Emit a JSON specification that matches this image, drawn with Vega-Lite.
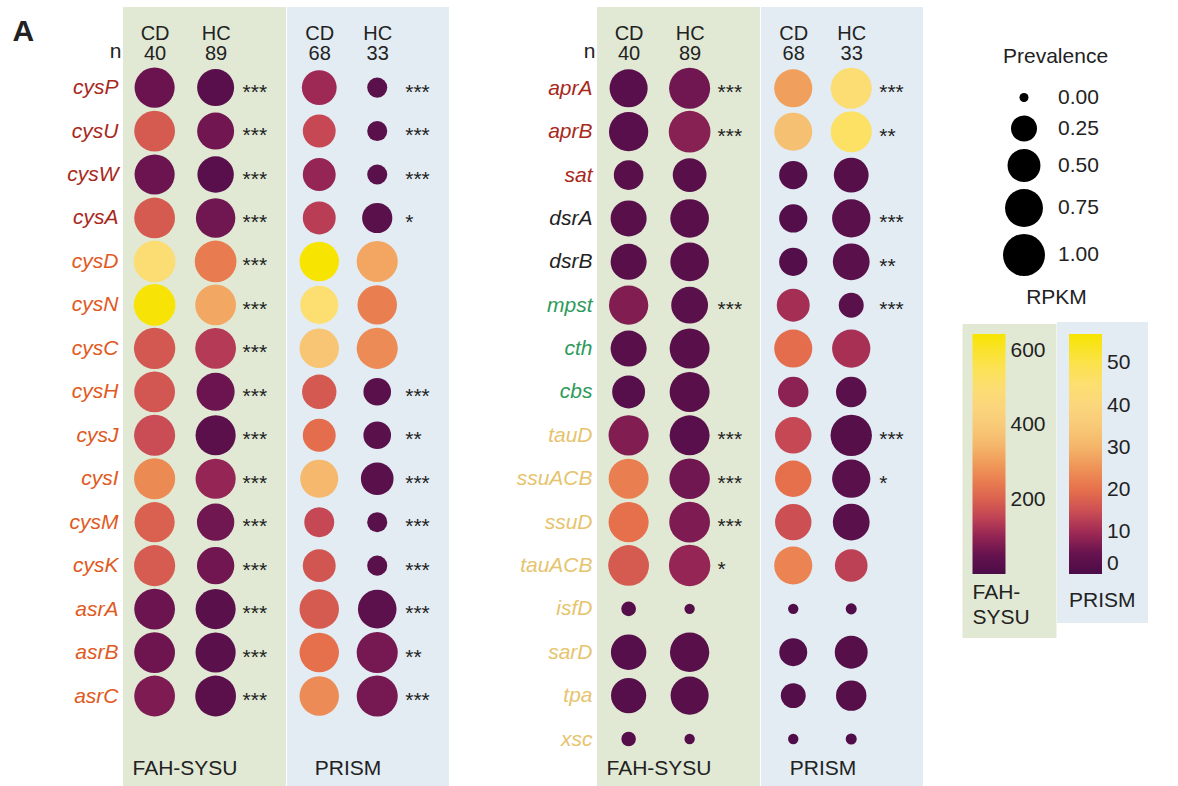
{
  "$schema": "https://vega.github.io/schema/vega-lite/v6.json",
  "padding": {"left": 12, "top": 7, "right": 0, "bottom": 0},
  "background": "white",
  "config": {"font": "Liberation Sans", "view": {"stroke": null}, "title": {"fontWeight": "normal"}, "legend": {"titleFontWeight": "normal"}},
  "datasets": {
    "dots": [
      {"gene":"cysP","panel":"L","cohort":"FAH-SYSU","group":"CD","prev":0.88,"rpkm":60},
      {"gene":"cysP","panel":"L","cohort":"FAH-SYSU","group":"HC","prev":0.70,"rpkm":28},
      {"gene":"cysP","panel":"L","cohort":"PRISM","group":"CD","prev":0.59,"rpkm":9.8},
      {"gene":"cysP","panel":"L","cohort":"PRISM","group":"HC","prev":0.11,"rpkm":2.5},
      {"gene":"cysU","panel":"L","cohort":"FAH-SYSU","group":"CD","prev":0.92,"rpkm":190},
      {"gene":"cysU","panel":"L","cohort":"FAH-SYSU","group":"HC","prev":0.70,"rpkm":70},
      {"gene":"cysU","panel":"L","cohort":"PRISM","group":"CD","prev":0.50,"rpkm":14},
      {"gene":"cysU","panel":"L","cohort":"PRISM","group":"HC","prev":0.11,"rpkm":2.5},
      {"gene":"cysW","panel":"L","cohort":"FAH-SYSU","group":"CD","prev":0.88,"rpkm":62},
      {"gene":"cysW","panel":"L","cohort":"FAH-SYSU","group":"HC","prev":0.67,"rpkm":28},
      {"gene":"cysW","panel":"L","cohort":"PRISM","group":"CD","prev":0.50,"rpkm":9},
      {"gene":"cysW","panel":"L","cohort":"PRISM","group":"HC","prev":0.11,"rpkm":2.5},
      {"gene":"cysA","panel":"L","cohort":"FAH-SYSU","group":"CD","prev":0.92,"rpkm":190},
      {"gene":"cysA","panel":"L","cohort":"FAH-SYSU","group":"HC","prev":0.84,"rpkm":68},
      {"gene":"cysA","panel":"L","cohort":"PRISM","group":"CD","prev":0.50,"rpkm":12.5},
      {"gene":"cysA","panel":"L","cohort":"PRISM","group":"HC","prev":0.39,"rpkm":2.5},
      {"gene":"cysD","panel":"L","cohort":"FAH-SYSU","group":"CD","prev":0.98,"rpkm":500},
      {"gene":"cysD","panel":"L","cohort":"FAH-SYSU","group":"HC","prev":0.98,"rpkm":245},
      {"gene":"cysD","panel":"L","cohort":"PRISM","group":"CD","prev":0.84,"rpkm":57},
      {"gene":"cysD","panel":"L","cohort":"PRISM","group":"HC","prev":0.94,"rpkm":28},
      {"gene":"cysN","panel":"L","cohort":"FAH-SYSU","group":"CD","prev":0.98,"rpkm":640},
      {"gene":"cysN","panel":"L","cohort":"FAH-SYSU","group":"HC","prev":0.92,"rpkm":320},
      {"gene":"cysN","panel":"L","cohort":"PRISM","group":"CD","prev":0.76,"rpkm":45},
      {"gene":"cysN","panel":"L","cohort":"PRISM","group":"HC","prev":0.84,"rpkm":22},
      {"gene":"cysC","panel":"L","cohort":"FAH-SYSU","group":"CD","prev":0.96,"rpkm":185},
      {"gene":"cysC","panel":"L","cohort":"FAH-SYSU","group":"HC","prev":0.92,"rpkm":138},
      {"gene":"cysC","panel":"L","cohort":"PRISM","group":"CD","prev":0.84,"rpkm":34},
      {"gene":"cysC","panel":"L","cohort":"PRISM","group":"HC","prev":0.94,"rpkm":24},
      {"gene":"cysH","panel":"L","cohort":"FAH-SYSU","group":"CD","prev":0.92,"rpkm":182},
      {"gene":"cysH","panel":"L","cohort":"FAH-SYSU","group":"HC","prev":0.76,"rpkm":62},
      {"gene":"cysH","panel":"L","cohort":"PRISM","group":"CD","prev":0.57,"rpkm":16.5},
      {"gene":"cysH","panel":"L","cohort":"PRISM","group":"HC","prev":0.30,"rpkm":2.5},
      {"gene":"cysJ","panel":"L","cohort":"FAH-SYSU","group":"CD","prev":0.94,"rpkm":165},
      {"gene":"cysJ","panel":"L","cohort":"FAH-SYSU","group":"HC","prev":0.88,"rpkm":32},
      {"gene":"cysJ","panel":"L","cohort":"PRISM","group":"CD","prev":0.50,"rpkm":19.5},
      {"gene":"cysJ","panel":"L","cohort":"PRISM","group":"HC","prev":0.30,"rpkm":2.5},
      {"gene":"cysI","panel":"L","cohort":"FAH-SYSU","group":"CD","prev":0.94,"rpkm":270},
      {"gene":"cysI","panel":"L","cohort":"FAH-SYSU","group":"HC","prev":0.88,"rpkm":103},
      {"gene":"cysI","panel":"L","cohort":"PRISM","group":"CD","prev":0.76,"rpkm":31},
      {"gene":"cysI","panel":"L","cohort":"PRISM","group":"HC","prev":0.49,"rpkm":2.5},
      {"gene":"cysM","panel":"L","cohort":"FAH-SYSU","group":"CD","prev":0.88,"rpkm":200},
      {"gene":"cysM","panel":"L","cohort":"FAH-SYSU","group":"HC","prev":0.72,"rpkm":68},
      {"gene":"cysM","panel":"L","cohort":"PRISM","group":"CD","prev":0.38,"rpkm":14},
      {"gene":"cysM","panel":"L","cohort":"PRISM","group":"HC","prev":0.11,"rpkm":2.5},
      {"gene":"cysK","panel":"L","cohort":"FAH-SYSU","group":"CD","prev":0.94,"rpkm":192},
      {"gene":"cysK","panel":"L","cohort":"FAH-SYSU","group":"HC","prev":0.72,"rpkm":70},
      {"gene":"cysK","panel":"L","cohort":"PRISM","group":"CD","prev":0.50,"rpkm":16},
      {"gene":"cysK","panel":"L","cohort":"PRISM","group":"HC","prev":0.11,"rpkm":2.5},
      {"gene":"asrA","panel":"L","cohort":"FAH-SYSU","group":"CD","prev":0.92,"rpkm":64},
      {"gene":"asrA","panel":"L","cohort":"FAH-SYSU","group":"HC","prev":0.88,"rpkm":30},
      {"gene":"asrA","panel":"L","cohort":"PRISM","group":"CD","prev":0.84,"rpkm":16.8},
      {"gene":"asrA","panel":"L","cohort":"PRISM","group":"HC","prev":0.79,"rpkm":3},
      {"gene":"asrB","panel":"L","cohort":"FAH-SYSU","group":"CD","prev":0.92,"rpkm":66},
      {"gene":"asrB","panel":"L","cohort":"FAH-SYSU","group":"HC","prev":0.88,"rpkm":30},
      {"gene":"asrB","panel":"L","cohort":"PRISM","group":"CD","prev":0.84,"rpkm":20},
      {"gene":"asrB","panel":"L","cohort":"PRISM","group":"HC","prev":0.94,"rpkm":6.5},
      {"gene":"asrC","panel":"L","cohort":"FAH-SYSU","group":"CD","prev":0.92,"rpkm":80},
      {"gene":"asrC","panel":"L","cohort":"FAH-SYSU","group":"HC","prev":0.92,"rpkm":32},
      {"gene":"asrC","panel":"L","cohort":"PRISM","group":"CD","prev":0.84,"rpkm":24},
      {"gene":"asrC","panel":"L","cohort":"PRISM","group":"HC","prev":0.94,"rpkm":6.5},
      {"gene":"aprA","panel":"R","cohort":"FAH-SYSU","group":"CD","prev":0.76,"rpkm":28},
      {"gene":"aprA","panel":"R","cohort":"FAH-SYSU","group":"HC","prev":0.94,"rpkm":68},
      {"gene":"aprA","panel":"R","cohort":"PRISM","group":"CD","prev":0.76,"rpkm":27},
      {"gene":"aprA","panel":"R","cohort":"PRISM","group":"HC","prev":0.94,"rpkm":44},
      {"gene":"aprB","panel":"R","cohort":"FAH-SYSU","group":"CD","prev":0.83,"rpkm":28},
      {"gene":"aprB","panel":"R","cohort":"FAH-SYSU","group":"HC","prev":0.98,"rpkm":90},
      {"gene":"aprB","panel":"R","cohort":"PRISM","group":"CD","prev":0.76,"rpkm":33},
      {"gene":"aprB","panel":"R","cohort":"PRISM","group":"HC","prev":0.94,"rpkm":47},
      {"gene":"sat","panel":"R","cohort":"FAH-SYSU","group":"CD","prev":0.37,"rpkm":25},
      {"gene":"sat","panel":"R","cohort":"FAH-SYSU","group":"HC","prev":0.54,"rpkm":25},
      {"gene":"sat","panel":"R","cohort":"PRISM","group":"CD","prev":0.32,"rpkm":1.5},
      {"gene":"sat","panel":"R","cohort":"PRISM","group":"HC","prev":0.59,"rpkm":2},
      {"gene":"dsrA","panel":"R","cohort":"FAH-SYSU","group":"CD","prev":0.65,"rpkm":25},
      {"gene":"dsrA","panel":"R","cohort":"FAH-SYSU","group":"HC","prev":0.79,"rpkm":25},
      {"gene":"dsrA","panel":"R","cohort":"PRISM","group":"CD","prev":0.32,"rpkm":1.5},
      {"gene":"dsrA","panel":"R","cohort":"PRISM","group":"HC","prev":0.77,"rpkm":2.5},
      {"gene":"dsrB","panel":"R","cohort":"FAH-SYSU","group":"CD","prev":0.65,"rpkm":25},
      {"gene":"dsrB","panel":"R","cohort":"FAH-SYSU","group":"HC","prev":0.79,"rpkm":25},
      {"gene":"dsrB","panel":"R","cohort":"PRISM","group":"CD","prev":0.32,"rpkm":1.5},
      {"gene":"dsrB","panel":"R","cohort":"PRISM","group":"HC","prev":0.69,"rpkm":2.5},
      {"gene":"mpst","panel":"R","cohort":"FAH-SYSU","group":"CD","prev":0.83,"rpkm":85},
      {"gene":"mpst","panel":"R","cohort":"FAH-SYSU","group":"HC","prev":0.69,"rpkm":30},
      {"gene":"mpst","panel":"R","cohort":"PRISM","group":"CD","prev":0.50,"rpkm":10.5},
      {"gene":"mpst","panel":"R","cohort":"PRISM","group":"HC","prev":0.22,"rpkm":2.5},
      {"gene":"cth","panel":"R","cohort":"FAH-SYSU","group":"CD","prev":0.65,"rpkm":25},
      {"gene":"cth","panel":"R","cohort":"FAH-SYSU","group":"HC","prev":0.87,"rpkm":25},
      {"gene":"cth","panel":"R","cohort":"PRISM","group":"CD","prev":0.76,"rpkm":19.5},
      {"gene":"cth","panel":"R","cohort":"PRISM","group":"HC","prev":0.77,"rpkm":10.8},
      {"gene":"cbs","panel":"R","cohort":"FAH-SYSU","group":"CD","prev":0.50,"rpkm":22},
      {"gene":"cbs","panel":"R","cohort":"FAH-SYSU","group":"HC","prev":0.87,"rpkm":25},
      {"gene":"cbs","panel":"R","cohort":"PRISM","group":"CD","prev":0.40,"rpkm":8.3},
      {"gene":"cbs","panel":"R","cohort":"PRISM","group":"HC","prev":0.40,"rpkm":2.5},
      {"gene":"tauD","panel":"R","cohort":"FAH-SYSU","group":"CD","prev":0.88,"rpkm":85},
      {"gene":"tauD","panel":"R","cohort":"FAH-SYSU","group":"HC","prev":0.87,"rpkm":28},
      {"gene":"tauD","panel":"R","cohort":"PRISM","group":"CD","prev":0.67,"rpkm":14},
      {"gene":"tauD","panel":"R","cohort":"PRISM","group":"HC","prev":0.96,"rpkm":2},
      {"gene":"ssuACB","panel":"R","cohort":"FAH-SYSU","group":"CD","prev":0.87,"rpkm":250},
      {"gene":"ssuACB","panel":"R","cohort":"FAH-SYSU","group":"HC","prev":0.90,"rpkm":68},
      {"gene":"ssuACB","panel":"R","cohort":"PRISM","group":"CD","prev":0.67,"rpkm":20},
      {"gene":"ssuACB","panel":"R","cohort":"PRISM","group":"HC","prev":0.77,"rpkm":2.5},
      {"gene":"ssuD","panel":"R","cohort":"FAH-SYSU","group":"CD","prev":0.88,"rpkm":225},
      {"gene":"ssuD","panel":"R","cohort":"FAH-SYSU","group":"HC","prev":0.92,"rpkm":80},
      {"gene":"ssuD","panel":"R","cohort":"PRISM","group":"CD","prev":0.67,"rpkm":15},
      {"gene":"ssuD","panel":"R","cohort":"PRISM","group":"HC","prev":0.69,"rpkm":2.5},
      {"gene":"tauACB","panel":"R","cohort":"FAH-SYSU","group":"CD","prev":0.92,"rpkm":190},
      {"gene":"tauACB","panel":"R","cohort":"FAH-SYSU","group":"HC","prev":0.96,"rpkm":103},
      {"gene":"tauACB","panel":"R","cohort":"PRISM","group":"CD","prev":0.76,"rpkm":23},
      {"gene":"tauACB","panel":"R","cohort":"PRISM","group":"HC","prev":0.49,"rpkm":13},
      {"gene":"isfD","panel":"R","cohort":"FAH-SYSU","group":"CD","prev":0.035,"rpkm":20},
      {"gene":"isfD","panel":"R","cohort":"FAH-SYSU","group":"HC","prev":0.004,"rpkm":20},
      {"gene":"isfD","panel":"R","cohort":"PRISM","group":"CD","prev":0.004,"rpkm":1},
      {"gene":"isfD","panel":"R","cohort":"PRISM","group":"HC","prev":0.007,"rpkm":1},
      {"gene":"sarD","panel":"R","cohort":"FAH-SYSU","group":"CD","prev":0.62,"rpkm":22},
      {"gene":"sarD","panel":"R","cohort":"FAH-SYSU","group":"HC","prev":0.83,"rpkm":25},
      {"gene":"sarD","panel":"R","cohort":"PRISM","group":"CD","prev":0.31,"rpkm":1.5},
      {"gene":"sarD","panel":"R","cohort":"PRISM","group":"HC","prev":0.50,"rpkm":2},
      {"gene":"tpa","panel":"R","cohort":"FAH-SYSU","group":"CD","prev":0.61,"rpkm":22},
      {"gene":"tpa","panel":"R","cohort":"FAH-SYSU","group":"HC","prev":0.76,"rpkm":25},
      {"gene":"tpa","panel":"R","cohort":"PRISM","group":"CD","prev":0.22,"rpkm":1.5},
      {"gene":"tpa","panel":"R","cohort":"PRISM","group":"HC","prev":0.40,"rpkm":2},
      {"gene":"xsc","panel":"R","cohort":"FAH-SYSU","group":"CD","prev":0.033,"rpkm":20},
      {"gene":"xsc","panel":"R","cohort":"FAH-SYSU","group":"HC","prev":0.004,"rpkm":20},
      {"gene":"xsc","panel":"R","cohort":"PRISM","group":"CD","prev":0.004,"rpkm":1},
      {"gene":"xsc","panel":"R","cohort":"PRISM","group":"HC","prev":0.007,"rpkm":1}
    ],
    "sig": [
      {"gene":"cysP","panel":"L","cohort":"FAH-SYSU","sig":"***"},
      {"gene":"cysU","panel":"L","cohort":"FAH-SYSU","sig":"***"},
      {"gene":"cysW","panel":"L","cohort":"FAH-SYSU","sig":"***"},
      {"gene":"cysA","panel":"L","cohort":"FAH-SYSU","sig":"***"},
      {"gene":"cysD","panel":"L","cohort":"FAH-SYSU","sig":"***"},
      {"gene":"cysN","panel":"L","cohort":"FAH-SYSU","sig":"***"},
      {"gene":"cysC","panel":"L","cohort":"FAH-SYSU","sig":"***"},
      {"gene":"cysH","panel":"L","cohort":"FAH-SYSU","sig":"***"},
      {"gene":"cysJ","panel":"L","cohort":"FAH-SYSU","sig":"***"},
      {"gene":"cysI","panel":"L","cohort":"FAH-SYSU","sig":"***"},
      {"gene":"cysM","panel":"L","cohort":"FAH-SYSU","sig":"***"},
      {"gene":"cysK","panel":"L","cohort":"FAH-SYSU","sig":"***"},
      {"gene":"asrA","panel":"L","cohort":"FAH-SYSU","sig":"***"},
      {"gene":"asrB","panel":"L","cohort":"FAH-SYSU","sig":"***"},
      {"gene":"asrC","panel":"L","cohort":"FAH-SYSU","sig":"***"},
      {"gene":"cysP","panel":"L","cohort":"PRISM","sig":"***"},
      {"gene":"cysU","panel":"L","cohort":"PRISM","sig":"***"},
      {"gene":"cysW","panel":"L","cohort":"PRISM","sig":"***"},
      {"gene":"cysA","panel":"L","cohort":"PRISM","sig":"*"},
      {"gene":"cysH","panel":"L","cohort":"PRISM","sig":"***"},
      {"gene":"cysJ","panel":"L","cohort":"PRISM","sig":"**"},
      {"gene":"cysI","panel":"L","cohort":"PRISM","sig":"***"},
      {"gene":"cysM","panel":"L","cohort":"PRISM","sig":"***"},
      {"gene":"cysK","panel":"L","cohort":"PRISM","sig":"***"},
      {"gene":"asrA","panel":"L","cohort":"PRISM","sig":"***"},
      {"gene":"asrB","panel":"L","cohort":"PRISM","sig":"**"},
      {"gene":"asrC","panel":"L","cohort":"PRISM","sig":"***"},
      {"gene":"aprA","panel":"R","cohort":"FAH-SYSU","sig":"***"},
      {"gene":"aprB","panel":"R","cohort":"FAH-SYSU","sig":"***"},
      {"gene":"mpst","panel":"R","cohort":"FAH-SYSU","sig":"***"},
      {"gene":"tauD","panel":"R","cohort":"FAH-SYSU","sig":"***"},
      {"gene":"ssuACB","panel":"R","cohort":"FAH-SYSU","sig":"***"},
      {"gene":"ssuD","panel":"R","cohort":"FAH-SYSU","sig":"***"},
      {"gene":"tauACB","panel":"R","cohort":"FAH-SYSU","sig":"*"},
      {"gene":"aprA","panel":"R","cohort":"PRISM","sig":"***"},
      {"gene":"aprB","panel":"R","cohort":"PRISM","sig":"**"},
      {"gene":"dsrA","panel":"R","cohort":"PRISM","sig":"***"},
      {"gene":"dsrB","panel":"R","cohort":"PRISM","sig":"**"},
      {"gene":"mpst","panel":"R","cohort":"PRISM","sig":"***"},
      {"gene":"tauD","panel":"R","cohort":"PRISM","sig":"***"},
      {"gene":"ssuACB","panel":"R","cohort":"PRISM","sig":"*"}
    ]
  },
  "spacing": 67,
  "hconcat": [
    {
      "spacing": 1,
      "hconcat": [
        {
          "width": 163, "height": 780,
          "view": {"fill": "#e1e9d4", "stroke": null},
          "title": {"text": "FAH-SYSU", "orient": "bottom", "frame": "group", "anchor": "start", "align": "center", "dx": 62, "offset": -18, "baseline": "middle", "fontSize": 21, "fontWeight": "normal", "color": "#222222"},
          "layer": [
            {
              "data": {"name": "dots"},
              "transform": [{"filter": "datum.panel == 'L' && datum.cohort == 'FAH-SYSU'"}],
              "mark": {"type": "point", "filled": true, "shape": "circle", "opacity": 1},
              "encoding": {
                "x": {"field": "group", "type": "nominal", "scale": {"type": "point", "domain": ["CD", "HC"], "padding": 0.836, "align": 0.31},
                  "axis": {"orient": "top", "offset": -36, "domain": false, "ticks": false, "grid": false, "labelAngle": 0, "labelFontSize": 20, "labelColor": "#222222", "labelLineHeight": 20, "labelPadding": 0, "labelExpr": "datum.value == 'CD' ? ['CD', '40'] : ['HC', '89']", "title": "n", "titleX": -2, "titleY": 8, "titleAlign": "right", "titleBaseline": "middle", "titleAngle": 0, "titleFontSize": 21, "titleFontWeight": "normal", "titleColor": "#222222"}},
                "y": {"field": "gene", "type": "nominal", "scale": {"type": "point", "domain": ["cysP","cysU","cysW","cysA","cysD","cysN","cysC","cysH","cysJ","cysI","cysM","cysK","asrA","asrB","asrC"], "range": [80.6, 689], "padding": 0},
                  "axis": {"domain": false, "ticks": false, "grid": false, "labelFontSize": 21, "labelFontStyle": "italic", "labelPadding": 5,
                    "labelColor": {"expr": "indexof(['cysP','cysU','cysW','cysA','aprA','aprB','sat'], datum.value) >= 0 ? '#a8281b' : indexof(['dsrA','dsrB'], datum.value) >= 0 ? '#222222' : indexof(['mpst','cth','cbs'], datum.value) >= 0 ? '#2e9a5c' : indexof(['tauD','ssuACB','ssuD','tauACB','isfD','sarD','tpa','xsc'], datum.value) >= 0 ? '#e6c46e' : '#e05a1e'"},
                    "title": "A", "titleX": -111, "titleY": 24, "titleAngle": 0, "titleAlign": "left", "titleBaseline": "middle", "titleFontSize": 30, "titleFontWeight": "bold", "titleColor": "#222222"}},
                "size": {"field": "prev", "type": "quantitative", "scale": {"type": "pow", "exponent": 0.75, "domain": [0, 1], "range": [81, 1764]},
                  "legend": {"title": "Prevalence", "orient": "none", "legendX": 880, "legendY": 39, "values": [0, 0.25, 0.5, 0.75, 1], "format": ".2f", "symbolType": "circle", "symbolFillColor": "#111111", "symbolStrokeWidth": 0, "symbolOpacity": 1, "labelFontSize": 21, "labelOffset": 13, "labelColor": "#222222", "titleFontSize": 21, "titleColor": "#222222", "titlePadding": 20, "rowPadding": 7, "padding": 0}},
                "color": {"field": "rpkm", "type": "quantitative",
                  "scale": {"type": "linear", "domain": [0, 64.6, 113, 161.5, 226, 290.7, 342.4, 400.5, 452.2, 516.8, 581.4, 646], "range": ["#4b0c47", "#6c1450", "#a02a55", "#c84a55", "#e6704c", "#ef9658", "#f4b56a", "#f8ca78", "#fbd67c", "#fde070", "#fbe340", "#f7e400"], "interpolate": "rgb", "clamp": true},
                  "legend": {"title": ["FAH-", "SYSU"], "orient": "none", "legendX": 839.5, "legendY": 317, "direction": "vertical", "gradientLength": 240, "gradientThickness": 33, "gradientStrokeWidth": 0, "values": [200, 400, 600], "fillColor": "#e1e9d4", "padding": 10, "titleOrient": "bottom", "titleAnchor": "start", "titleFontSize": 21, "titleColor": "#222222", "titleLineHeight": 25, "titlePadding": 8, "labelFontSize": 21, "labelColor": "#222222", "labelOffset": 5, "labelBaseline": "middle"}}
              }
            },
            {
              "data": {"name": "sig"},
              "transform": [{"filter": "datum.panel == 'L' && datum.cohort == 'FAH-SYSU'"}],
              "mark": {"type": "text", "align": "left", "baseline": "alphabetic", "dx": 27, "dy": 11, "fontSize": 21, "color": "#222222"},
              "encoding": {
                "x": {"datum": "HC"},
                "y": {"field": "gene", "type": "nominal"},
                "text": {"field": "sig"}
              }
            }
          ]
        },
        {
          "width": 162, "height": 780,
          "view": {"fill": "#e2ecf2", "stroke": null},
          "title": {"text": "PRISM", "orient": "bottom", "frame": "group", "anchor": "start", "align": "center", "dx": 61, "offset": -18, "baseline": "middle", "fontSize": 21, "fontWeight": "normal", "color": "#222222"},
          "layer": [
            {
              "data": {"name": "dots"},
              "transform": [{"filter": "datum.panel == 'L' && datum.cohort == 'PRISM'"}],
              "mark": {"type": "point", "filled": true, "shape": "circle", "opacity": 1},
              "encoding": {
                "x": {"field": "group", "type": "nominal", "scale": {"type": "point", "domain": ["CD", "HC"], "padding": 0.897, "align": 0.31},
                  "axis": {"orient": "top", "offset": -36, "domain": false, "ticks": false, "grid": false, "labelAngle": 0, "labelFontSize": 20, "labelColor": "#222222", "labelLineHeight": 20, "labelPadding": 0, "labelExpr": "datum.value == 'CD' ? ['CD', '68'] : ['HC', '33']", "title": null}},
                "y": {"field": "gene", "type": "nominal", "scale": {"type": "point", "domain": ["cysP","cysU","cysW","cysA","cysD","cysN","cysC","cysH","cysJ","cysI","cysM","cysK","asrA","asrB","asrC"], "range": [80.6, 689], "padding": 0}, "axis": null},
                "size": {"field": "prev", "type": "quantitative", "scale": {"type": "pow", "exponent": 0.75, "domain": [0, 1], "range": [81, 1764]}},
                "fill": {"field": "rpkm", "type": "quantitative",
                  "scale": {"type": "linear", "domain": [0, 5.7, 9.975, 14.25, 19.95, 25.65, 30.21, 35.34, 39.9, 45.6, 51.3, 57], "range": ["#4b0c47", "#6c1450", "#a02a55", "#c84a55", "#e6704c", "#ef9658", "#f4b56a", "#f8ca78", "#fbd67c", "#fde070", "#fbe340", "#f7e400"], "interpolate": "rgb", "clamp": true},
                  "legend": {"title": "PRISM", "orient": "none", "legendX": 934, "legendY": 315, "direction": "vertical", "gradientLength": 240, "gradientThickness": 33, "gradientStrokeWidth": 0, "values": [0, 10, 20, 30, 40, 50], "fillColor": "#e2ecf2", "padding": 12, "titleOrient": "bottom", "titleAnchor": "start", "titleFontSize": 21, "titleColor": "#222222", "titlePadding": 16, "labelFontSize": 21, "labelColor": "#222222", "labelOffset": 5, "labelBaseline": "middle"}}
              }
            },
            {
              "data": {"name": "sig"},
              "transform": [{"filter": "datum.panel == 'L' && datum.cohort == 'PRISM'"}],
              "mark": {"type": "text", "align": "left", "baseline": "alphabetic", "dx": 28, "dy": 11, "fontSize": 21, "color": "#222222"},
              "encoding": {
                "x": {"datum": "HC"},
                "y": {"field": "gene", "type": "nominal"},
                "text": {"field": "sig"}
              }
            }
          ]
        }
      ]
    },
    {
      "spacing": 1,
      "hconcat": [
        {
          "width": 163, "height": 780,
          "view": {"fill": "#e1e9d4", "stroke": null},
          "title": {"text": "FAH-SYSU", "orient": "bottom", "frame": "group", "anchor": "start", "align": "center", "dx": 62, "offset": -18, "baseline": "middle", "fontSize": 21, "fontWeight": "normal", "color": "#222222"},
          "layer": [
            {
              "data": {"name": "dots"},
              "transform": [{"filter": "datum.panel == 'R' && datum.cohort == 'FAH-SYSU'"}],
              "mark": {"type": "point", "filled": true, "shape": "circle", "opacity": 1},
              "encoding": {
                "x": {"field": "group", "type": "nominal", "scale": {"type": "point", "domain": ["CD", "HC"], "padding": 0.836, "align": 0.31},
                  "axis": {"orient": "top", "offset": -36, "domain": false, "ticks": false, "grid": false, "labelAngle": 0, "labelFontSize": 20, "labelColor": "#222222", "labelLineHeight": 20, "labelPadding": 0, "labelExpr": "datum.value == 'CD' ? ['CD', '40'] : ['HC', '89']", "title": "n", "titleX": -2, "titleY": 8, "titleAlign": "right", "titleBaseline": "middle", "titleAngle": 0, "titleFontSize": 21, "titleFontWeight": "normal", "titleColor": "#222222"}},
                "y": {"field": "gene", "type": "nominal", "scale": {"type": "point", "domain": ["aprA","aprB","sat","dsrA","dsrB","mpst","cth","cbs","tauD","ssuACB","ssuD","tauACB","isfD","sarD","tpa","xsc"], "range": [81.3, 732], "padding": 0},
                  "axis": {"domain": false, "ticks": false, "grid": false, "labelFontSize": 21, "labelFontStyle": "italic", "labelPadding": 5,
                    "labelColor": {"expr": "indexof(['cysP','cysU','cysW','cysA','aprA','aprB','sat'], datum.value) >= 0 ? '#a8281b' : indexof(['dsrA','dsrB'], datum.value) >= 0 ? '#222222' : indexof(['mpst','cth','cbs'], datum.value) >= 0 ? '#2e9a5c' : indexof(['tauD','ssuACB','ssuD','tauACB','isfD','sarD','tpa','xsc'], datum.value) >= 0 ? '#e6c46e' : '#e05a1e'"},
                    "title": null}},
                "size": {"field": "prev", "type": "quantitative", "scale": {"type": "pow", "exponent": 0.75, "domain": [0, 1], "range": [81, 1764]}},
                "color": {"field": "rpkm", "type": "quantitative",
                  "scale": {"type": "linear", "domain": [0, 64.6, 113, 161.5, 226, 290.7, 342.4, 400.5, 452.2, 516.8, 581.4, 646], "range": ["#4b0c47", "#6c1450", "#a02a55", "#c84a55", "#e6704c", "#ef9658", "#f4b56a", "#f8ca78", "#fbd67c", "#fde070", "#fbe340", "#f7e400"], "interpolate": "rgb", "clamp": true}}
              }
            },
            {
              "data": {"name": "sig"},
              "transform": [{"filter": "datum.panel == 'R' && datum.cohort == 'FAH-SYSU'"}],
              "mark": {"type": "text", "align": "left", "baseline": "alphabetic", "dx": 28, "dy": 11, "fontSize": 21, "color": "#222222"},
              "encoding": {
                "x": {"datum": "HC"},
                "y": {"field": "gene", "type": "nominal"},
                "text": {"field": "sig"}
              }
            }
          ]
        },
        {
          "width": 162, "height": 780,
          "view": {"fill": "#e2ecf2", "stroke": null},
          "title": {"text": "PRISM", "orient": "bottom", "frame": "group", "anchor": "start", "align": "center", "dx": 62, "offset": -18, "baseline": "middle", "fontSize": 21, "fontWeight": "normal", "color": "#222222"},
          "layer": [
            {
              "data": {"name": "dots"},
              "transform": [{"filter": "datum.panel == 'R' && datum.cohort == 'PRISM'"}],
              "mark": {"type": "point", "filled": true, "shape": "circle", "opacity": 1},
              "encoding": {
                "x": {"field": "group", "type": "nominal", "scale": {"type": "point", "domain": ["CD", "HC"], "padding": 0.897, "align": 0.31},
                  "axis": {"orient": "top", "offset": -36, "domain": false, "ticks": false, "grid": false, "labelAngle": 0, "labelFontSize": 20, "labelColor": "#222222", "labelLineHeight": 20, "labelPadding": 0, "labelExpr": "datum.value == 'CD' ? ['CD', '68'] : ['HC', '33']", "title": null}},
                "y": {"field": "gene", "type": "nominal", "scale": {"type": "point", "domain": ["aprA","aprB","sat","dsrA","dsrB","mpst","cth","cbs","tauD","ssuACB","ssuD","tauACB","isfD","sarD","tpa","xsc"], "range": [81.3, 732], "padding": 0},
                  "axis": {"orient": "right", "domain": false, "ticks": false, "grid": false, "labels": false, "title": "RPKM", "titleX": 133, "titleY": 290, "titleAngle": 0, "titleAlign": "center", "titleBaseline": "middle", "titleFontSize": 21, "titleFontWeight": "normal", "titleColor": "#222222"}},
                "size": {"field": "prev", "type": "quantitative", "scale": {"type": "pow", "exponent": 0.75, "domain": [0, 1], "range": [81, 1764]}},
                "fill": {"field": "rpkm", "type": "quantitative",
                  "scale": {"type": "linear", "domain": [0, 5.7, 9.975, 14.25, 19.95, 25.65, 30.21, 35.34, 39.9, 45.6, 51.3, 57], "range": ["#4b0c47", "#6c1450", "#a02a55", "#c84a55", "#e6704c", "#ef9658", "#f4b56a", "#f8ca78", "#fbd67c", "#fde070", "#fbe340", "#f7e400"], "interpolate": "rgb", "clamp": true}}
              }
            },
            {
              "data": {"name": "sig"},
              "transform": [{"filter": "datum.panel == 'R' && datum.cohort == 'PRISM'"}],
              "mark": {"type": "text", "align": "left", "baseline": "alphabetic", "dx": 28, "dy": 11, "fontSize": 21, "color": "#222222"},
              "encoding": {
                "x": {"datum": "HC"},
                "y": {"field": "gene", "type": "nominal"},
                "text": {"field": "sig"}
              }
            }
          ]
        }
      ]
    }
  ]
}
